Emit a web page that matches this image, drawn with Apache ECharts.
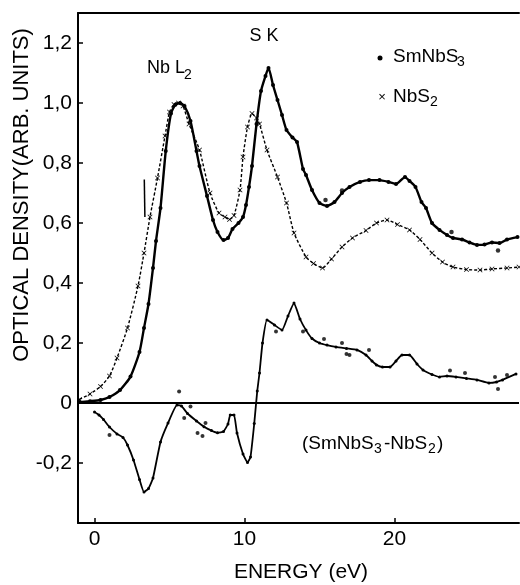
<!DOCTYPE html>
<html>
<head>
<meta charset="utf-8">
<script src="https://cdn.jsdelivr.net/npm/echarts@6/dist/echarts.min.js"></script>
<style>
html,body{margin:0;padding:0;background:#fff;}
#chart{width:520px;height:585px;}
</style>
</head>
<body>
<div id="chart"></div>
<script>
// ---- data ----
var smE = [-1.0,-0.3,0.4,1.0,1.7,2.4,3.0,3.3,3.6,3.9,4.1,4.4,4.75,5.1,5.4,5.7,6.0,6.4,6.8,7.0,7.5,7.9,8.2,8.6,8.9,9.2,9.6,9.9,10.1,10.3,10.5,10.8,11.1,11.4,11.6,11.9,12.2,12.5,12.8,13.2,13.5,13.9,14.1,14.5,15.0,15.5,16.0,16.5,17.0,17.7,18.3,19.0,19.6,20.1,20.7,21.0,21.4,21.8,22.1,22.5,23.0,23.5,23.9,24.5,25.0,25.5,26.0,26.5,27.0,27.5,28.2];
var smV = [0.003,0.006,0.01,0.02,0.043,0.088,0.17,0.25,0.33,0.45,0.54,0.65,0.84,0.965,0.995,1.0,0.99,0.94,0.84,0.79,0.69,0.61,0.57,0.543,0.55,0.58,0.60,0.62,0.66,0.72,0.79,0.93,1.04,1.09,1.117,1.06,1.01,0.96,0.91,0.885,0.87,0.78,0.76,0.71,0.667,0.657,0.67,0.70,0.72,0.737,0.743,0.743,0.737,0.73,0.753,0.74,0.72,0.67,0.65,0.60,0.577,0.56,0.55,0.545,0.535,0.527,0.528,0.535,0.533,0.545,0.553];

var nbE = [-1.0,-0.3,0.4,1.0,1.5,2.2,2.9,3.3,3.7,4.2,4.7,5.0,5.3,5.6,5.9,6.3,7.0,7.7,8.3,8.7,9.0,9.3,9.7,9.9,10.2,10.5,10.8,11.0,11.5,12.2,12.8,13.3,14.1,14.6,15.2,15.8,16.5,17.2,18.1,18.8,19.5,20.2,21.0,21.7,22.5,23.2,23.9,24.8,25.7,26.5,27.5,28.3];
var nbV = [0.012,0.03,0.055,0.09,0.15,0.25,0.39,0.50,0.62,0.75,0.89,0.97,0.995,1.0,0.99,0.93,0.843,0.70,0.633,0.62,0.612,0.625,0.71,0.82,0.92,0.965,0.95,0.93,0.843,0.753,0.667,0.567,0.487,0.465,0.45,0.48,0.52,0.55,0.575,0.60,0.61,0.595,0.577,0.545,0.50,0.47,0.453,0.445,0.443,0.447,0.45,0.453];

var diffE = [0,0.3,0.6,1.0,1.5,1.9,2.2,2.6,3.0,3.3,3.6,3.9,4.4,4.9,5.5,5.8,6.2,6.8,7.3,7.8,8.2,8.6,8.9,9.05,9.3,9.5,9.9,10.2,10.4,10.65,10.85,11.0,11.2,11.5,12.0,12.5,12.9,13.3,13.7,14.1,14.5,15.0,15.5,16.1,16.8,17.5,18.1,18.5,18.8,19.2,19.7,20.1,20.5,21.0,21.5,21.9,22.5,23.0,23.5,24.1,24.8,25.5,26.3,26.8,27.2,28.1];
var diffV = [-0.03,-0.04,-0.055,-0.08,-0.103,-0.115,-0.14,-0.19,-0.255,-0.297,-0.285,-0.25,-0.13,-0.067,-0.007,-0.01,-0.035,-0.06,-0.079,-0.092,-0.099,-0.095,-0.07,-0.04,-0.04,-0.1,-0.17,-0.198,-0.18,-0.068,0.04,0.1,0.2,0.277,0.26,0.243,0.29,0.333,0.28,0.243,0.215,0.2,0.193,0.187,0.182,0.177,0.16,0.14,0.127,0.12,0.12,0.14,0.16,0.16,0.13,0.11,0.095,0.087,0.09,0.087,0.082,0.077,0.067,0.07,0.077,0.097];

// stray measured points off the fitted curves
var diffDotE = [1.0,5.64,5.98,6.4,6.87,7.2,7.4,12.1,13.9,15.3,16.5,16.8,17.0,18.3,23.7,24.7,26.7,26.9,27.5];
var diffDotV = [-0.107,0.038,-0.05,-0.012,-0.1,-0.11,-0.067,0.238,0.238,0.213,0.2,0.163,0.16,0.177,0.108,0.1,0.087,0.047,0.093];
var smDotE = [15.4,16.5,23.8,26.9];
var smDotV = [0.677,0.708,0.57,0.508];

// short vertical marker near the NbS2 rising edge
var markE = [3.32,3.36];
var markV = [0.745,0.62];

var xTicks = [0,10,20];
var yTicks = [-0.2,0,0.2,0.4,0.6,0.8,1.0,1.2];
var yTickLabels = ['-0,2','0','0,2','0,4','0,6','0,8','1,0','1,2'];

function zip(a,b){ return a.map(function(v,i){ return [v,b[i]]; }); }

var FONT = '"Liberation Sans", Arial, Helvetica, sans-serif';
var BLACK = '#000';
var xShape = 'path://M0,1L1,0L5,4L9,0L10,1L6,5L10,9L9,10L5,6L1,10L0,9L4,5Z';

var chart = echarts.init(document.getElementById('chart'), null, {renderer:'canvas'});

function txt(x,y,s,size,align,extra){
  var o = {type:'text', x:x, y:y, silent:true, z:100,
    style:{text:s, fontSize:size, fontFamily:FONT, fill:BLACK, align:align||'left', verticalAlign:'middle'}};
  if(extra){ for(var k in extra){ o[k]=extra[k]; } }
  return o;
}

var option = {
  animation:false,
  backgroundColor:'#fff',
  grid:{left:78, top:13, width:441, height:510, containLabel:false},
  xAxis:[{
    type:'value', min:-1.1, max:28.3, position:'bottom',
    axisLine:{show:true, onZero:false, lineStyle:{color:BLACK, width:2}},
    axisTick:{show:true, inside:true, length:5, customValues:xTicks, lineStyle:{color:BLACK, width:1.5}},
    axisLabel:{show:true, customValues:xTicks, fontSize:21, fontFamily:FONT, color:BLACK, margin:6},
    splitLine:{show:false}
  },{
    type:'value', min:-1.1, max:28.3, position:'top',
    axisLine:{show:true, onZero:false, lineStyle:{color:BLACK, width:2}},
    axisTick:{show:false}, axisLabel:{show:false}, splitLine:{show:false}
  }],
  yAxis:[{
    type:'value', min:-0.4, max:1.3, position:'left',
    axisLine:{show:true, onZero:false, lineStyle:{color:BLACK, width:2}},
    axisTick:{show:true, inside:true, length:5, customValues:yTicks, lineStyle:{color:BLACK, width:1.5}},
    axisLabel:{show:true, customValues:yTicks, fontSize:21, fontFamily:FONT, color:BLACK, margin:6,
      formatter:function(v){ var i = yTicks.findIndex(function(t){return Math.abs(t-v)<1e-6;}); return i>=0?yTickLabels[i]:''; }},
    splitLine:{show:false}
  }],
  series:[
    {type:'line', name:'zero', data:[], markLine:{silent:true, symbol:['none','none'], label:{show:false},
      lineStyle:{color:BLACK, width:2, type:'solid'}, data:[{yAxis:0}]}},
    {type:'line', name:'NbS2', data:zip(nbE,nbV), smooth:0.2, symbol:xShape, symbolSize:5,
      itemStyle:{color:BLACK}, lineStyle:{color:BLACK, width:1.4, type:[3,2]}, z:3},
    {type:'line', name:'SmNbS3', data:zip(smE,smV), smooth:0.2, symbol:'circle', symbolSize:4,
      itemStyle:{color:BLACK}, lineStyle:{color:BLACK, width:2.4}, z:4},
    {type:'line', name:'diff', data:zip(diffE,diffV), smooth:0.15, symbol:'circle', symbolSize:3,
      itemStyle:{color:BLACK}, lineStyle:{color:BLACK, width:1.8}, z:4},
    {type:'scatter', name:'diffDots', data:zip(diffDotE,diffDotV), symbol:'circle', symbolSize:4, itemStyle:{color:BLACK}, z:5},
    {type:'scatter', name:'smDots', data:zip(smDotE,smDotV), symbol:'circle', symbolSize:4.5, itemStyle:{color:BLACK}, z:5},
    {type:'line', name:'mark', data:zip(markE,markV), symbol:'none', lineStyle:{color:BLACK, width:1.5}, z:5}
  ],
  graphic:[
    txt(22,195,'OPTICAL DENSITY(ARB. UNITS)',22,'center',{rotation:Math.PI/2}),
    txt(301,572,'ENERGY (eV)',21,'center'),
    txt(147,68,'Nb L',18,'left'),
    txt(184,75,'2',14,'left'),
    txt(264,36,'S K',18,'center'),
    {type:'circle', shape:{cx:380, cy:58, r:2.5}, style:{fill:BLACK}, z:100, silent:true},
    txt(393,57,'SmNbS',19,'left'),
    txt(457,62,'3',14,'left'),
    txt(382,97,'\u00d7',13,'center'),
    txt(393,97,'NbS',19,'left'),
    txt(430,102,'2',14,'left'),
    txt(302,444,'(SmNbS',19,'left'),
    txt(374,449,'3',14,'left'),
    txt(384,444,'-NbS',19,'left'),
    txt(428,449,'2',14,'left'),
    txt(437,444,')',19,'left')
  ]
};
chart.setOption(option);
</script>
</body>
</html>
